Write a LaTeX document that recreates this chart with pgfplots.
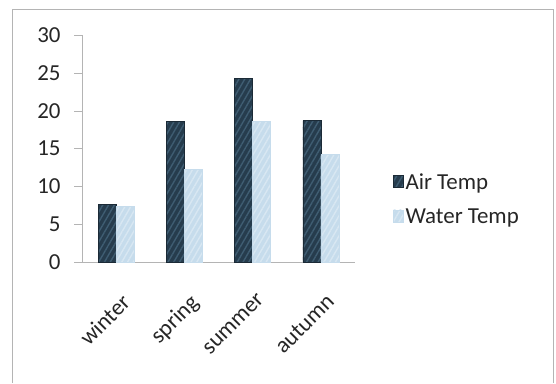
\documentclass[border=0pt]{standalone}
\usepackage{pgfplots}
\pgfplotsset{compat=1.18}
\usepackage{fontspec}
\setmainfont{Carlito}
\usetikzlibrary{patterns.meta}
\definecolor{airc}{HTML}{263C4D}
\definecolor{airl}{HTML}{3F5D72}
\definecolor{watc}{HTML}{C6DCEC}
\definecolor{watl}{HTML}{D8E7F2}
\definecolor{axgray}{HTML}{B4B4B4}

\begin{document}
\begin{tikzpicture}[x=1bp,y=1bp]
\useasboundingbox (0,0) rectangle (556,383);
% chart frame
\draw[color=axgray, line width=1bp] (12,0) -- (12,373) -- (553,373) -- (553,0);
\begin{axis}[
  at={(82bp,121bp)}, anchor=south west,
  scale only axis, width=273bp, height=227bp,
  ybar=0pt, bar width=18bp,
  xmin=-0.5, xmax=3.5, ymin=0, ymax=30,
  xtick={0,1,2,3}, xticklabels={winter,spring,summer,autumn},
  ytick={0,5,10,15,20,25,30},
  extra x ticks={-0.5,0.5,1.5,2.5,3.5},
  extra x tick labels={},
  extra x tick style={major tick length=6bp, tick style={axgray}},
  axis x line*=bottom, axis y line*=left,
  axis line style={axgray, line width=0.8bp},
  x tick style={draw=none},
  y tick style={axgray},
  major tick length=8bp,
  tick align=outside,
  /pgf/number format/assume math mode=true,
  tick label style={font=\fontsize{23}{27}\selectfont, text=black!85},
  yticklabel style={xshift=-10bp},
  xticklabel style={rotate=45, anchor=north east, inner sep=1bp, yshift=-18bp, xshift=-12bp},
  legend style={at={(1.128,0.277)}, anchor=west, draw=none, fill=none,
    font=\fontsize{23}{27}\selectfont, row sep=14bp, text=black!85},
  legend cell align=left,
  legend image code/.code={\fill[#1] (0bp,-5bp) rectangle (10bp,7bp);},
  clip=false,
]
\addplot[fill=airc, draw=airc!70!black,
  postaction={pattern={Lines[angle=60,distance=5bp,line width=1.4bp]}, pattern color=airl}]
  coordinates {(0,7.6) (1,18.6) (2,24.3) (3,18.7)};
\addplot[fill=watc, draw=watc,
  postaction={pattern={Lines[angle=60,distance=5bp,line width=1.4bp]}, pattern color=watl}]
  coordinates {(0,7.4) (1,12.2) (2,18.6) (3,14.2)};
\legend{Air Temp, Water Temp}
\end{axis}
\end{tikzpicture}
\end{document}
